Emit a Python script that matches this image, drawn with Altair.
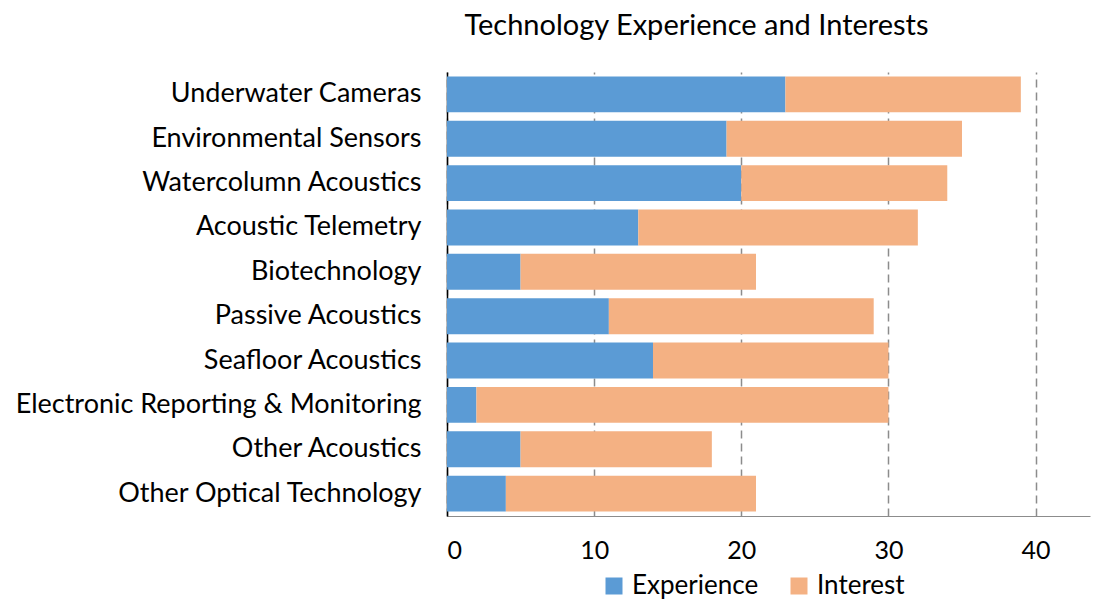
import altair as alt
import pandas as pd

categories = [
    "Underwater Cameras",
    "Environmental Sensors",
    "Watercolumn Acoustics",
    "Acoustic Telemetry",
    "Biotechnology",
    "Passive Acoustics",
    "Seafloor Acoustics",
    "Electronic Reporting & Monitoring",
    "Other Acoustics",
    "Other Optical Technology",
]
experience = [23, 19, 20, 13, 5, 11, 14, 2, 5, 4]
interest = [16, 16, 14, 19, 16, 18, 16, 28, 13, 17]
series = ["Experience", "Interest"]
colors = ["#5B9BD5", "#F4B183"]

rows = []
for c, e, i in zip(categories, experience, interest):
    rows.append({"cat": c, "series": "Experience", "value": e, "ord": 0})
    rows.append({"cat": c, "series": "Interest", "value": i, "ord": 1})
df = pd.DataFrame(rows)

FONT = "Lato"

chart = (
    alt.Chart(df)
    .mark_bar()
    .encode(
        y=alt.Y(
            "cat:N",
            sort=categories,
            title=None,
            scale=alt.Scale(paddingInner=0.19, paddingOuter=0.1),
            axis=alt.Axis(
                ticks=False,
                domainColor="#000000",
                domainWidth=1.5,
                labelFontSize=27,
                labelFont=FONT,
                labelColor="#000000",
                labelPadding=26,
                labelLimit=600,
                grid=False,
            ),
        ),
        x=alt.X(
            "value:Q",
            title=None,
            stack="zero",
            scale=alt.Scale(domain=[0, 43.7], nice=False),
            axis=alt.Axis(
                values=[0, 10, 20, 30, 40],
                ticks=False,
                grid=True,
                gridColor="#8c8c8c",
                gridWidth=1.5,
                gridDash=[8, 5],
                domainColor="#8c8c8c",
                domainWidth=1.2,
                labelFontSize=25,
                labelFont=FONT,
                labelColor="#000000",
                labelPadding=22,
            ),
        ),
        color=alt.Color(
            "series:N",
            scale=alt.Scale(domain=series, range=colors),
            legend=alt.Legend(
                title=None,
                orient="none",
                direction="horizontal",
                legendX=154,
                legendY=501,
                padding=0,
                symbolType="square",
                symbolSize=289,
                symbolStrokeWidth=0,
                labelFontSize=26,
                labelFont=FONT,
                labelColor="#000000",
                labelOffset=5,
                columnPadding=27,
            ),
        ),
        order=alt.Order("ord:Q"),
    )
    .properties(
        width=643,
        height=444,
        padding={"left": 439, "top": 64, "right": 1, "bottom": 85},
        autosize=alt.AutoSizeParams(type="none"),
        title=alt.TitleParams(
            "Technology Experience and Interests",
            font=FONT,
            fontSize=29,
            fontWeight="normal",
            color="#000000",
            anchor="middle",
            dx=-72,
            offset=31,
        ),
    )
    .configure_view(stroke=None)
)

chart.save("out.html", embed_options={"renderer": "svg", "actions": False})
